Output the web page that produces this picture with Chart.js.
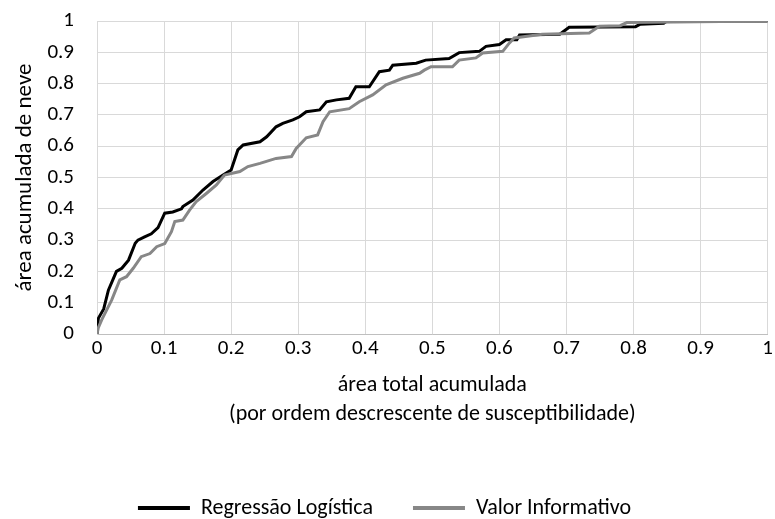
<!DOCTYPE html>
<html>
<head>
<meta charset="utf-8">
<script src="https://cdn.jsdelivr.net/npm/chart.js@4/dist/chart.umd.min.js"></script>
<style>
  html, body { margin: 0; padding: 0; background: #fff; }
  #wrap { width: 775px; height: 519px; }
</style>
</head>
<body>
<div id="wrap"><canvas id="c" width="775" height="519"></canvas></div>
<script>
// Cumulative curves: fraction of total area (x) vs fraction of snow area (y)
const seriesNames = ['Regressão Logística', 'Valor Informativo'];

const rlX = [0, 0.002, 0.01, 0.017, 0.029, 0.037, 0.047, 0.057, 0.061, 0.071, 0.081, 0.091, 0.101, 0.113, 0.126, 0.128, 0.143, 0.158, 0.173, 0.188, 0.2, 0.21, 0.218, 0.243, 0.253, 0.267, 0.277, 0.292, 0.302, 0.312, 0.332, 0.342, 0.357, 0.376, 0.386, 0.406, 0.421, 0.436, 0.441, 0.476, 0.49, 0.525, 0.54, 0.57, 0.58, 0.6, 0.61, 0.626, 0.63, 0.69, 0.704, 0.803, 0.81, 0.845, 0.85, 1];
const rlY = [0, 0.05, 0.08, 0.14, 0.2, 0.21, 0.236, 0.29, 0.3, 0.31, 0.32, 0.34, 0.386, 0.39, 0.4, 0.407, 0.428, 0.46, 0.487, 0.508, 0.524, 0.588, 0.604, 0.614, 0.63, 0.662, 0.673, 0.684, 0.694, 0.71, 0.716, 0.742, 0.748, 0.753, 0.79, 0.79, 0.838, 0.843, 0.859, 0.865, 0.875, 0.88, 0.899, 0.903, 0.919, 0.925, 0.94, 0.94, 0.955, 0.958, 0.98, 0.982, 0.99, 0.993, 1, 1];

const viX = [0, 0.002, 0.007, 0.022, 0.034, 0.044, 0.054, 0.066, 0.079, 0.089, 0.101, 0.111, 0.116, 0.128, 0.138, 0.148, 0.163, 0.178, 0.19, 0.213, 0.225, 0.243, 0.267, 0.29, 0.297, 0.312, 0.329, 0.337, 0.347, 0.376, 0.391, 0.411, 0.431, 0.456, 0.481, 0.488, 0.498, 0.53, 0.54, 0.565, 0.575, 0.605, 0.615, 0.622, 0.664, 0.734, 0.749, 0.78, 0.79, 1];
const viY = [0, 0.02, 0.045, 0.109, 0.173, 0.183, 0.21, 0.247, 0.257, 0.279, 0.289, 0.327, 0.359, 0.364, 0.396, 0.423, 0.449, 0.476, 0.508, 0.519, 0.535, 0.545, 0.561, 0.567, 0.593, 0.627, 0.636, 0.678, 0.71, 0.72, 0.742, 0.764, 0.796, 0.817, 0.833, 0.843, 0.854, 0.854, 0.875, 0.882, 0.898, 0.903, 0.93, 0.946, 0.958, 0.962, 0.983, 0.985, 0.995, 1];

const FONT = 'Carlito, Lato, "Liberation Sans", sans-serif';

function toPoints(xs, ys) {
  return xs.map((x, i) => ({ x: x, y: ys[i] }));
}

new Chart(document.getElementById('c'), {
  type: 'line',
  data: {
    datasets: [
      {
        label: seriesNames[0],
        data: toPoints(rlX, rlY),
        borderColor: '#000000',
        backgroundColor: '#000000',
        borderWidth: 3,
        pointRadius: 0,
        tension: 0,
        order: 1
      },
      {
        label: seriesNames[1],
        data: toPoints(viX, viY),
        borderColor: '#878787',
        backgroundColor: '#878787',
        borderWidth: 3,
        pointRadius: 0,
        tension: 0,
        order: 0
      }
    ]
  },
  options: {
    responsive: false,
    animation: false,
    layout: { padding: { top: 21, right: 6, left: 0, bottom: -10 } },
    plugins: {
      tooltip: { enabled: false },
      legend: {
        position: 'bottom',
        labels: {
          font: { family: FONT, size: 22 },
          color: '#000',
          boxWidth: 52,
          boxHeight: 4,
          padding: 40,
          sort: (a, b) => a.datasetIndex - b.datasetIndex,
          generateLabels: (chart) => {
            const items = Chart.defaults.plugins.legend.labels.generateLabels(chart);
            items.forEach(it => { it.lineWidth = 0; });
            return items;
          }
        }
      }
    },
    scales: {
      x: {
        type: 'linear',
        min: 0, max: 1,
        ticks: {
          stepSize: 0.1,
          color: '#000',
          font: { family: FONT, size: 21 },
          padding: 2,
          maxRotation: 0,
          callback: v => Math.round(v * 10) / 10
        },
        grid: { color: '#d9d9d9', lineWidth: 1, drawTicks: false },
        border: { color: '#bfbfbf', width: 1 },
        title: {
          display: true,
          text: ['área total acumulada', '(por ordem descrescente de susceptibilidade)'],
          color: '#000',
          font: { family: FONT, size: 22, lineHeight: 1.32 },
          padding: { top: 4, bottom: 28 }
        },
        afterFit: s => { s.height = 123; }
      },
      y: {
        type: 'linear',
        min: 0, max: 1,
        ticks: {
          stepSize: 0.1,
          color: '#000',
          font: { family: FONT, size: 21 },
          padding: 3,
          callback: v => Math.round(v * 10) / 10
        },
        grid: {
          color: '#d9d9d9',
          lineWidth: 1,
          drawTicks: true,
          tickLength: 20,
          tickColor: 'rgba(0,0,0,0)'
        },
        border: { color: '#d9d9d9', width: 1 },
        title: {
          display: true,
          text: 'área acumulada de neve',
          color: '#000',
          font: { family: FONT, size: 23 },
          padding: { top: 11, bottom: 0 }
        },
        afterFit: s => { s.width = 97; }
      }
    }
  }
});
</script>
</body>
</html>
